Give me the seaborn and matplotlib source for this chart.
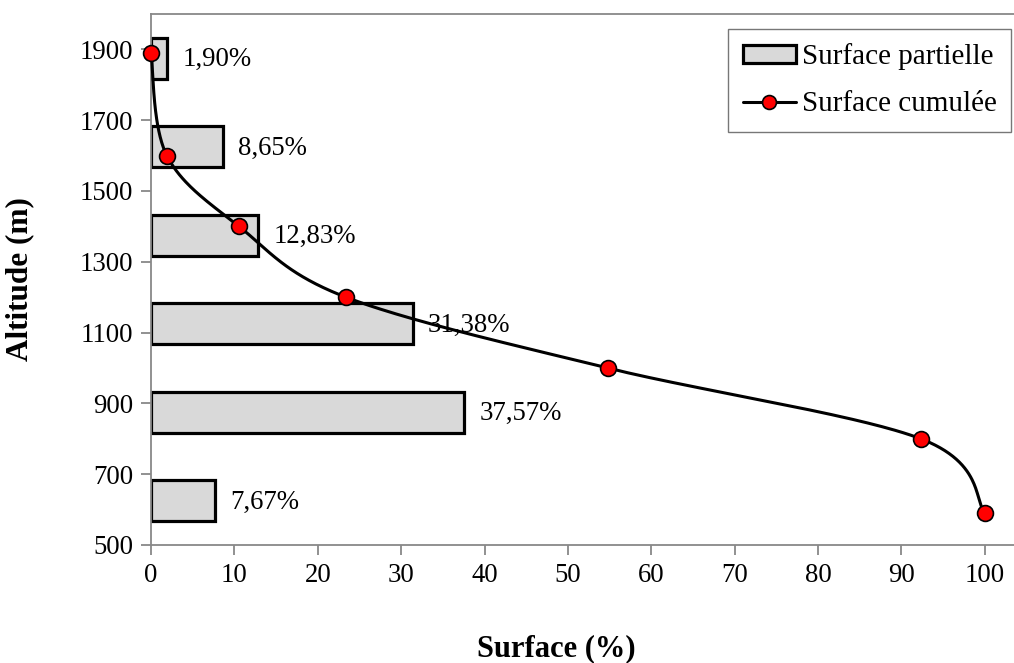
import numpy as np
import pandas as pd
import matplotlib
matplotlib.use("Agg")
import matplotlib.pyplot as plt
import seaborn as sns
from matplotlib.patches import Patch
from matplotlib.lines import Line2D

# ---- data ----
alt_classes = [625, 875, 1125, 1375, 1625, 1875]          # class midpoints (m)
partial = [7.67, 37.57, 31.38, 12.83, 8.65, 1.90]           # surface partielle (%)
partial_labels = ["7,67%", "37,57%", "31,38%", "12,83%", "8,65%", "1,90%"]
cum_alt = [1890, 1600, 1400, 1200, 1000, 800, 590]          # altitude (m)
cum_surface = [0, 1.90, 10.55, 23.38, 54.76, 92.33, 100]    # surface cumulée (%)
x_ticks = [0, 10, 20, 30, 40, 50, 60, 70, 80, 90, 100]
y_ticks = [500, 700, 900, 1100, 1300, 1500, 1700, 1900]

sns.set_style("white")
plt.rcParams['font.family'] = ['Liberation Serif', 'DejaVu Serif']
plt.rcParams['text.color'] = 'black'
plt.rcParams['axes.labelcolor'] = 'black'

FS = 19.3

fig = plt.figure(figsize=(10.14, 6.63), dpi=100)
ax = fig.add_axes([151/1014, 1 - 545/663, 1 - 151/1014, (545 - 14)/663])

df = pd.DataFrame({"alt": alt_classes, "partial": partial})
sns.barplot(data=df, x="partial", y="alt", orient="y", native_scale=True,
            width=0.465, color="#d9d9d9", edgecolor="black", linewidth=2.3,
            saturation=1, ax=ax, zorder=2)

ax.set_xlim(0, 103.5)
ax.set_ylim(500, 2000)
ax.set_xticks(x_ticks)
ax.set_yticks(y_ticks)

# bar labels
for xv, yv, lab in zip(partial, alt_classes, partial_labels):
    ax.annotate(lab, (xv, yv), xytext=(11, -1), textcoords="offset points",
                ha="left", va="center", fontsize=FS, color="black", zorder=1.5)

# smoothed cumulative curve (Catmull-Rom Bezier in display space, like Excel)
fig.canvas.draw()
pts = ax.transData.transform(np.column_stack([cum_surface, cum_alt]))
P = np.vstack([pts[0], pts, pts[-1]])
curve = []
t = np.linspace(0, 1, 60)[:, None]
for i in range(1, len(P) - 2):
    p0, p3 = P[i], P[i + 1]
    c1 = p0 + (P[i + 1] - P[i - 1]) / 6.0
    c2 = p3 - (P[i + 2] - P[i]) / 6.0
    seg = ((1 - t) ** 3) * p0 + 3 * ((1 - t) ** 2) * t * c1 + 3 * (1 - t) * t ** 2 * c2 + t ** 3 * p3
    curve.append(seg)
curve = ax.transData.inverted().transform(np.vstack(curve))
ax.plot(curve[:, 0], curve[:, 1], color="black", lw=2.2, zorder=3, clip_on=False)
sns.scatterplot(x=cum_surface, y=cum_alt, color="red", edgecolor="black",
                linewidth=1.2, s=130, zorder=4, ax=ax, clip_on=False)

# axes styling
for side in ["top", "left", "bottom"]:
    ax.spines[side].set_color("#888888")
    ax.spines[side].set_linewidth(1.3)
ax.spines["right"].set_visible(False)
ax.tick_params(axis="both", which="major", direction="out", length=7, width=1.3,
               color="#888888", labelsize=FS, labelcolor="black", pad=6,
               bottom=True, left=True)

ax.set_xlabel("Surface (%)", fontsize=22, fontweight="bold")
ax.set_ylabel("Altitude (m)", fontsize=22.5, fontweight="bold")
ax.xaxis.set_label_coords((556 - 151) / (1014 - 151), -(634 - 545) / 531)
ax.yaxis.set_label_coords(-(151 - 34) / (1014 - 151), 0.5)

handles = [Patch(facecolor="#d9d9d9", edgecolor="black", linewidth=2.3),
           Line2D([0], [0], color="black", lw=2.2, marker="o", markersize=10,
                  markerfacecolor="red", markeredgecolor="black", markeredgewidth=1.2)]
leg = ax.legend(handles, ["Surface partielle", "Surface cumulée"],
                loc="upper right", bbox_to_anchor=(0.9965, 0.972),
                fontsize=21, frameon=True, fancybox=False, edgecolor="#555555",
                handlelength=1.82, handleheight=0.55, handletextpad=0.2,
                borderpad=0.5, labelspacing=0.72, borderaxespad=0)
leg.get_frame().set_linewidth(1.0)

fig.savefig("out.png", dpi=100)
